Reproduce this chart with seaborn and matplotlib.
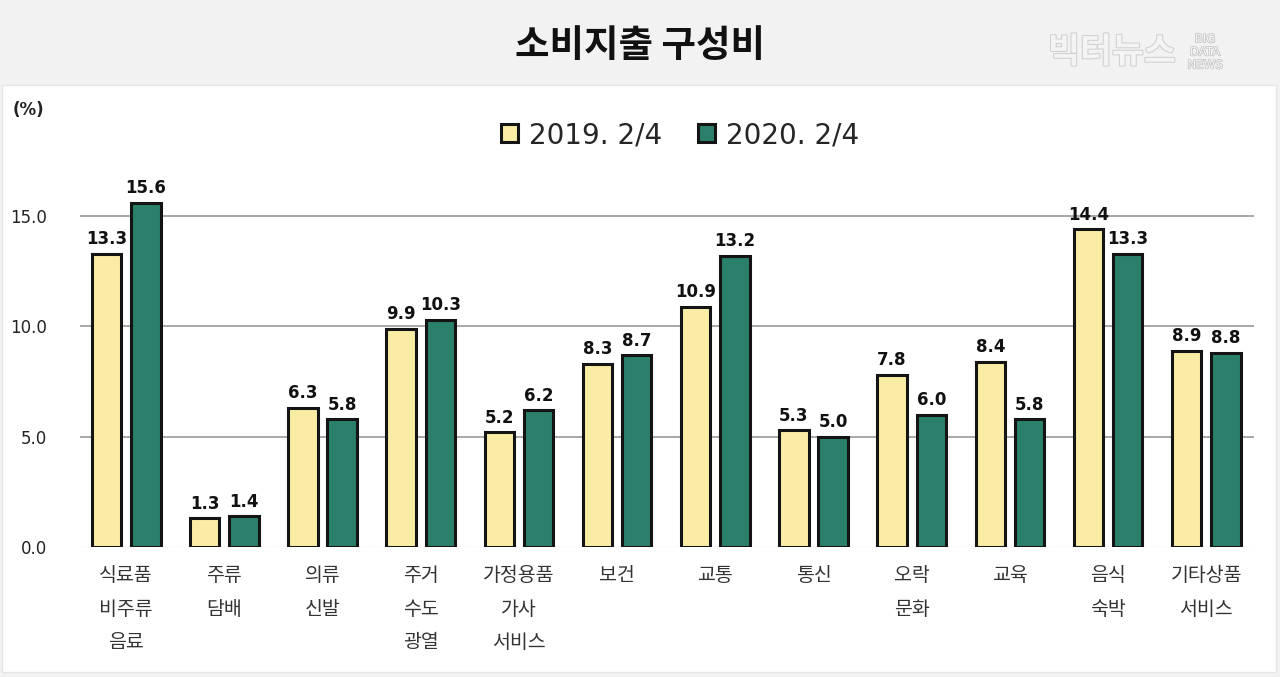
import pandas as pd
import seaborn as sns
import matplotlib.pyplot as plt
from matplotlib.patches import Rectangle
import matplotlib.patheffects as pe

# Data
categories = ['식료품\n비주류\n음료', '주류\n담배', '의류\n신발', '주거\n수도\n광열',
              '가정용품\n가사\n서비스', '보건', '교통', '통신', '오락\n문화', '교육',
              '음식\n숙박', '기타상품\n서비스']
v2019 = [13.3, 1.3, 6.3, 9.9, 5.2, 8.3, 10.9, 5.3, 7.8, 8.4, 14.4, 8.9]
v2020 = [15.6, 1.4, 5.8, 10.3, 6.2, 8.7, 13.2, 5.0, 6.0, 5.8, 13.3, 8.8]
series = ['2019. 2/4', '2020. 2/4']

df = pd.DataFrame({
    'cat': categories * 2,
    'year': [series[0]] * len(categories) + [series[1]] * len(categories),
    'value': v2019 + v2020,
})

sns.set_style('white')
plt.rcParams['font.family'] = ['Noto Sans CJK KR', 'DejaVu Sans']

fig = plt.figure(figsize=(12.8, 6.77), dpi=100, facecolor='#f2f2f2')
# white chart panel (behind the axes)
fig.patches.append(Rectangle((2 / 1280, 5 / 677), 1274 / 1280, 587 / 677,
                             transform=fig.transFigure, facecolor='white',
                             edgecolor='#e6e6e6', linewidth=1, zorder=-1))

ax = fig.add_axes([0.0625, 130 / 677, 0.9175, 375 / 677])
ax.set_facecolor('none')

colors = {series[0]: '#f9eca5', series[1]: '#2a806b'}
sns.barplot(data=df, x='cat', y='value', hue='year', palette=colors,
            saturation=1, width=0.8, gap=0.25, edgecolor='#141414',
            linewidth=2.2, ax=ax, zorder=3)

for c in ax.containers:
    ax.bar_label(c, fmt='%.1f', padding=4, fontsize=12, fontweight='bold',
                 color='#111111', family='DejaVu Sans')

ax.set_ylim(0, 17)
ax.set_xlim(-0.47, 11.49)
ax.set_yticks([0, 5, 10, 15])
ax.set_yticklabels(['0.0', '5.0', '10.0', '15.0'], fontsize=12,
                   color='#222222', family='DejaVu Sans')
ax.tick_params(axis='y', length=0, pad=24)
ax.tick_params(axis='x', length=0, pad=13, labelsize=14, labelcolor='#333333')
for t in ax.get_xticklabels():
    t.set_linespacing(1.78)
    t.set_verticalalignment('top')
for y in [5, 10, 15]:
    ax.axhline(y, color='#9a9a9a', linewidth=1.2, zorder=1)
ax.axhline(0, color='#cccccc', linewidth=1, linestyle=':', zorder=1)
sns.despine(ax=ax, left=True, bottom=True)
ax.set_xlabel('')
ax.set_ylabel('')

handles, labels = ax.get_legend_handles_labels()
leg = ax.legend(handles, labels, ncol=2, frameon=False,
                prop={'family': 'DejaVu Sans', 'size': 20},
                loc='center', bbox_to_anchor=(680 / 1280, 1 - 135 / 677),
                bbox_transform=fig.transFigure, handlelength=0.6, handleheight=0.6,
                handletextpad=0.4, columnspacing=1.3)

fig.text(28 / 1280, 1 - 110 / 677, '(%)', ha='center', va='center',
         fontsize=12, fontweight='bold', color='#222222', family='DejaVu Sans')
fig.text(0.5, 1 - 45 / 677, '소비지출 구성비', ha='center', va='center',
         fontsize=27, fontweight='bold', color='#111111')

# watermark
fig.text(1112 / 1280, 1 - 52 / 677, '빅터뉴스', ha='center', va='center',
         fontsize=25, fontweight='bold', color='#f4f4f4',
         path_effects=[pe.withStroke(linewidth=1.5, foreground='#d0d0d0')])
fig.text(1205 / 1280, 1 - 52 / 677, 'BIG\nDATA\nNEWS', ha='center', va='center',
         fontsize=8.5, color='#f4f4f4', linespacing=1.0, family='DejaVu Sans',
         path_effects=[pe.withStroke(linewidth=1.0, foreground='#c0c0c0')])

plt.savefig('out.png', dpi=100, facecolor=fig.get_facecolor())
